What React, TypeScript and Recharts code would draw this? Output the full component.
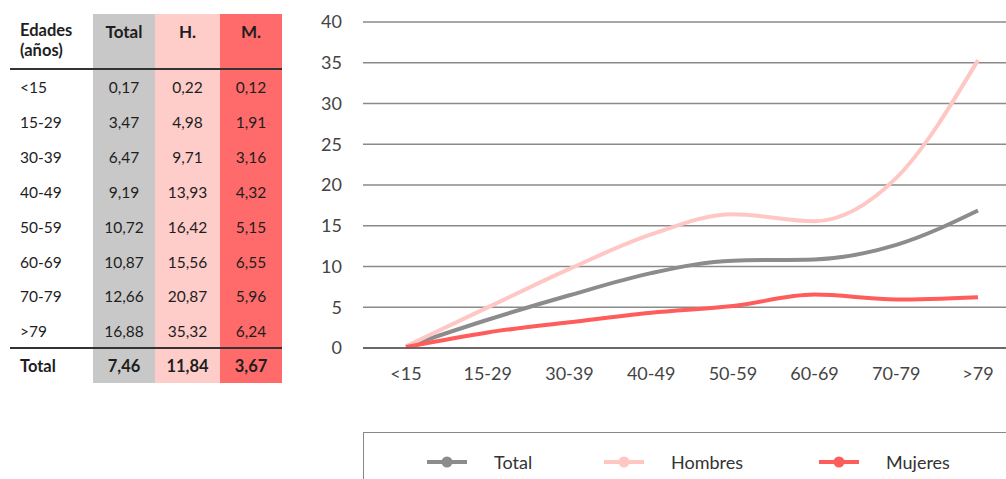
import React from 'react';
import { LineChart, Line, XAxis, YAxis, CartesianGrid } from 'recharts';

const ageGroups = ['<15', '15-29', '30-39', '40-49', '50-59', '60-69', '70-79', '>79'];
const totalRates = [0.17, 3.47, 6.47, 9.19, 10.72, 10.87, 12.66, 16.88];
const menRates = [0.22, 4.98, 9.71, 13.93, 16.42, 15.56, 20.87, 35.32];
const womenRates = [0.12, 1.91, 3.16, 4.32, 5.15, 6.55, 5.96, 6.24];
const overallRates = [7.46, 11.84, 3.67];
const yTicks = [0, 5, 10, 15, 20, 25, 30, 35, 40];

const series = [
  { key: 'total', name: 'Total', color: '#8c8c8c', head: 'Total', bg: '#c8c8c8' },
  { key: 'hombres', name: 'Hombres', color: '#ffc7c4', head: 'H.', bg: '#ffcdc9' },
  { key: 'mujeres', name: 'Mujeres', color: '#ff5c5c', head: 'M.', bg: '#ff6b6b' },
];

const chartData = ageGroups.map((age, i) => ({
  age,
  total: totalRates[i],
  hombres: menRates[i],
  mujeres: womenRates[i],
}));

const fmt = (v: number) => v.toFixed(2).replace('.', ',');
const FONT = 'Lato, "Open Sans", sans-serif';

const colX = [10, 93, 155, 220, 282];

function RatesTable() {
  const cols = [totalRates, menRates, womenRates];
  const rowH = 34.9;
  return (
    <div style={{ position: 'absolute', left: 0, top: 0, width: 300, height: 400, fontFamily: FONT, color: '#1e1e1e', fontSize: 15.5 }}>
      {/* fondos de columna */}
      {series.map((s, c) => (
        <div key={s.key} style={{ position: 'absolute', left: colX[c + 1], width: colX[c + 2] - colX[c + 1], top: 14, height: 369, background: s.bg }} />
      ))}
      {/* cabecera */}
      <div style={{ position: 'absolute', left: 20, top: 22, fontWeight: 700, lineHeight: '17px', fontSize: 16.5 }}>Edades</div>
      <div style={{ position: 'absolute', left: 20, top: 42, fontWeight: 700, lineHeight: '17px', fontSize: 16.5 }}>(años)</div>
      {series.map((s, c) => (
        <div key={s.key} style={{ position: 'absolute', left: colX[c + 1], width: colX[c + 2] - colX[c + 1], top: 23, textAlign: 'center', fontWeight: 700, lineHeight: '17px', fontSize: 17 }}>
          {s.head}
        </div>
      ))}
      <div style={{ position: 'absolute', left: 10, width: 272, top: 68, height: 2, background: '#333' }} />
      {ageGroups.map((age, r) => (
        <React.Fragment key={age}>
          <div style={{ position: 'absolute', left: 20, top: 70 + r * rowH, height: rowH, lineHeight: rowH + 'px' }}>{age}</div>
          {cols.map((vals, c) => (
            <div key={c} style={{ position: 'absolute', left: colX[c + 1], width: colX[c + 2] - colX[c + 1], top: 70 + r * rowH, height: rowH, lineHeight: rowH + 'px', textAlign: 'center' }}>
              {fmt(vals[r])}
            </div>
          ))}
        </React.Fragment>
      ))}
      <div style={{ position: 'absolute', left: 10, width: 272, top: 347, height: 2, background: '#333' }} />
      <div style={{ position: 'absolute', left: 20, top: 349, height: 34, lineHeight: '34px', fontWeight: 700, fontSize: 16.5 }}>Total</div>
      {overallRates.map((v, c) => (
        <div key={c} style={{ position: 'absolute', left: colX[c + 1], width: colX[c + 2] - colX[c + 1], top: 349, height: 34, lineHeight: '34px', textAlign: 'center', fontWeight: 700, fontSize: 16.5 }}>
          {fmt(v)}
        </div>
      ))}
    </div>
  );
}

function LegendBox() {
  const itemX = [426, 603, 818];
  return (
    <div style={{ position: 'absolute', left: 363, top: 432, width: 660, height: 60, borderTop: '1.5px solid #888', borderLeft: '1.5px solid #888', fontFamily: FONT }}>
      {series.map((s, i) => (
        <div key={s.key} style={{ position: 'absolute', left: itemX[i] - 363, top: 18, display: 'flex', alignItems: 'center' }}>
          <svg width={40} height={14}>
            <line x1={0} y1={7} x2={40} y2={7} stroke={s.color} strokeWidth={4} />
            <circle cx={20} cy={7} r={5.5} fill={s.color} />
          </svg>
          <span style={{ marginLeft: 27, fontSize: 18, color: '#333' }}>{s.name}</span>
        </div>
      ))}
    </div>
  );
}

export default function App() {
  return (
    <div style={{ position: 'fixed', left: 0, top: 0, width: 1006, height: 479, background: '#fff', overflow: 'hidden' }}>
      <RatesTable />
      <div style={{ position: 'absolute', left: 300, top: 0 }}>
        <LineChart width={706} height={400} data={chartData} margin={{ top: 22, right: 0, left: 0, bottom: 0 }}>
          <CartesianGrid vertical={false} stroke="#8a8a8a" strokeWidth={1.5} />
          <XAxis
            dataKey="age"
            padding={{ left: 43, right: 28 }}
            height={52}
            tickLine={false}
            axisLine={{ stroke: '#555', strokeWidth: 1.5 }}
            tickMargin={13}
            tick={{ fill: '#444', fontSize: 18, fontFamily: FONT }}
          />
          <YAxis
            domain={[0, 40]}
            ticks={yTicks}
            width={63}
            tickLine={false}
            axisLine={false}
            tickSize={0}
            tickMargin={21}
            tick={{ fill: '#444', fontSize: 18, fontFamily: FONT }}
          />
          {series.map(s => (
            <Line
              key={s.key}
              type="monotone"
              dataKey={s.key}
              name={s.name}
              stroke={s.color}
              strokeWidth={4}
              dot={false}
              activeDot={false}
              isAnimationActive={false}
            />
          ))}
        </LineChart>
      </div>
      <LegendBox />
    </div>
  );
}
